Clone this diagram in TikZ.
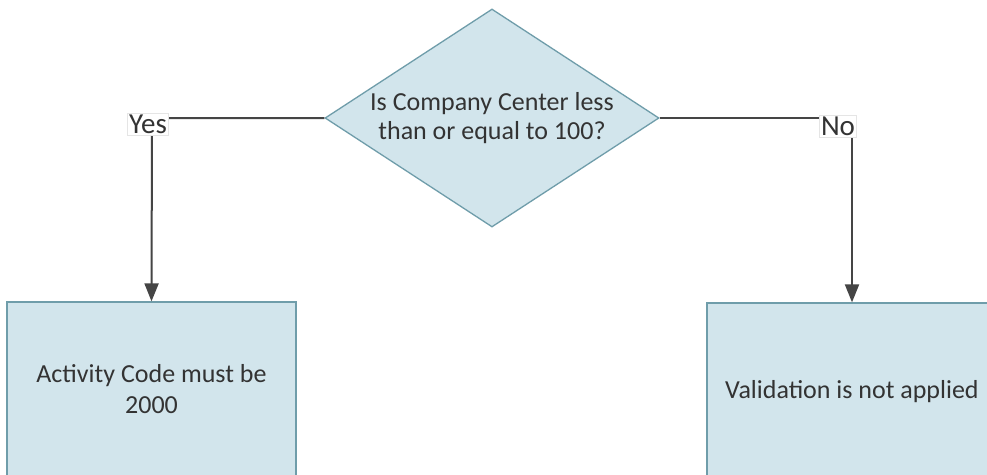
\documentclass[tikz,border=0pt]{standalone}
\usepackage{fontspec}
\setmainfont{Carlito}
\usetikzlibrary{shapes.geometric,arrows.meta}
\definecolor{boxfill}{HTML}{D2E5EC}
\definecolor{boxline}{HTML}{6F9DAA}
\definecolor{conn}{HTML}{454545}
\begin{document}
\begin{tikzpicture}[x=1pt,y=-1pt,
  every node/.style={font=\fontsize{26}{29}\selectfont, text=black!80},
  decision/.style={diamond, draw=boxline, fill=boxfill, line width=1.3pt, aspect=1.53, inner sep=0pt,
    minimum width=334pt, minimum height=218pt, align=center},
  action/.style={rectangle, draw=boxline, fill=boxfill, line width=1.3pt, align=center},
  conn/.style={draw=conn, line width=2pt},
  arr/.style={conn, -{Triangle[length=18pt,width=14pt]}},
  lbl/.style={fill=white, draw=black!10, line width=0.5pt, inner sep=1.5pt, font=\fontsize{29}{30}\selectfont}
]
\useasboundingbox (0,0) rectangle (987,474);
\fill[white] (0,0) rectangle (987,474);
\node[decision] (d) at (492,118) {Is Company Center less\\than or equal to 100?};
\node[action, minimum width=289pt, minimum height=174pt, font=\fontsize{26}{31}\selectfont] (a) at (151.5,389) {Activity Code must be\\2000};
\node[action, minimum width=290pt, minimum height=178pt] (v) at (852,392) {Validation is not applied};
\coordinate (cy) at (152,118);
\coordinate (cn) at (852,118);
\draw[arr] (d.west) -- (cy) -- (a.north);
\draw[arr] (d.east) -- (cn) -- (v.north);
\node[lbl] (ly) at (148,124) {Yes};
\node[lbl] (ln) at (838,126) {No};
\end{tikzpicture}
\end{document}
